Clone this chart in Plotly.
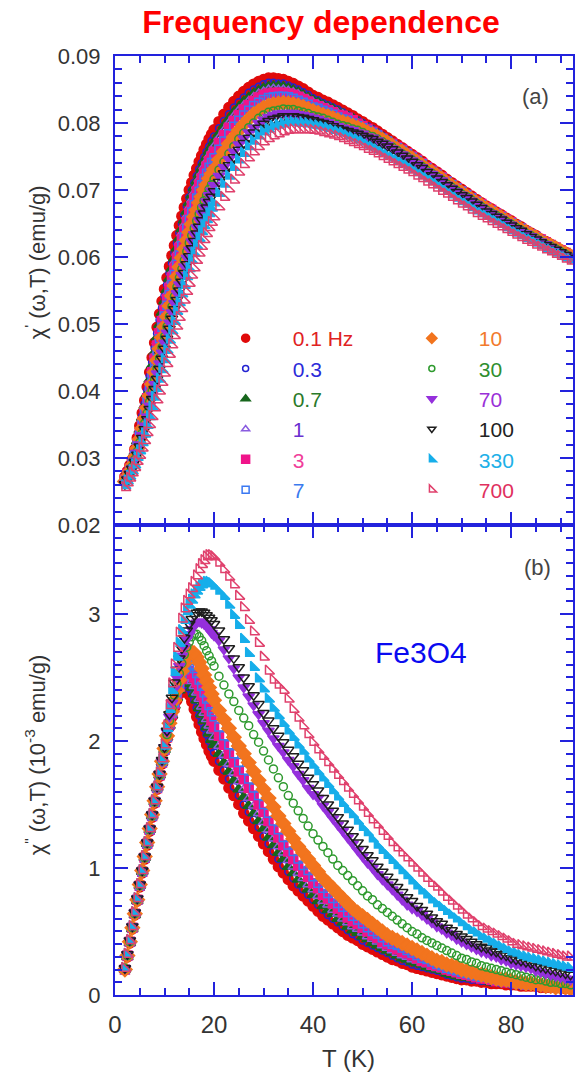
import plotly.graph_objects as go

# ---------------- data ----------------
T = [2, 2.5, 3, 3.5, 4, 4.5, 5, 5.5, 6, 6.5, 7, 7.5, 8, 8.5, 9, 9.5, 10, 10.5, 11, 11.5,
     12, 12.5, 13, 13.5, 14, 14.5, 15, 15.5, 16, 16.5, 17, 17.5, 18, 18.5, 19, 19.5, 20,
     21, 22, 23, 24, 25, 26, 27, 28, 29, 30, 31, 32, 33, 34, 35, 36, 37, 38, 39, 40,
     41, 42, 43, 44, 45, 46, 47, 48, 49, 50, 51, 52, 53, 54, 55, 56, 57, 58, 59, 60,
     61, 62, 63, 64, 65, 66, 67, 68, 69, 70, 71, 72, 73, 74, 75, 76, 77, 78, 79, 80,
     81, 82, 83, 84, 85, 86, 87, 88, 89, 90, 91, 92]

freq_labels = ["0.1 Hz", "0.3", "0.7", "1", "3", "7", "10", "30", "70", "100", "330", "700"]

# chi' in units of 1e-4 emu/g
chi1_f01 = [272,280,289,298,313,330,348,367,386,406,428,450,472,495,515,534,552,569,586,602,617,632,647,661,674,687,700,711,722,732,742,751,760,768,776,783,790,
            802,813,823,832,840,847,853,858,862,865,867,867,866,865,862,859,855,851,846,841,838,834,831,827,823,
            819,815,811,806,802,797,793,788,783,778,
            773,768,763,758,753,748,743,737,732,727,722,716,711,706,701,696,691,686,681,676,672,667,663,658,654,649,645,640,636,632,627,623,619,615,611,607,603]
chi1_f03 = [271,279,287,296,311,327,344,363,381,401,422,443,464,486,506,524,542,559,576,591,606,621,636,650,663,676,689,700,711,721,731,740,749,757,765,773,780,
            792,803,813,823,831,838,845,850,854,858,860,860,859,859,856,853,850,846,842,837,834,830,827,823,820,
            816,812,808,804,800,795,791,786,781,776,
            771,766,762,757,752,747,742,736,731,726,721,715,710,705,700,695,690,685,680,675,671,666,662,657,653,648,644,639,635,631,626,622,618,614,611,607,603]
chi1_f07 = [270,278,286,295,309,325,342,360,378,396,417,438,458,480,499,517,534,551,568,583,598,613,628,642,655,668,681,692,703,713,723,732,741,749,758,765,772,
            784,796,806,816,824,832,838,844,848,852,854,855,855,854,852,849,846,842,838,834,831,827,824,821,817,
            814,810,807,802,798,793,789,784,780,775,
            771,766,761,756,751,746,741,735,730,725,720,714,709,704,699,694,689,684,679,674,670,666,662,657,653,648,644,639,635,631,626,622,618,614,610,606,602]
chi1_f1 = [269,277,285,294,308,323,340,357,375,393,413,433,454,474,493,511,528,545,561,577,592,606,621,635,648,661,674,685,696,706,716,725,735,743,751,758,765,
           778,789,800,810,819,826,833,839,844,847,850,851,850,850,848,846,843,839,835,831,828,825,822,818,815,
           813,809,805,800,797,792,788,783,779,774,
           770,765,760,755,750,745,740,734,730,725,720,714,709,704,699,694,689,684,679,674,670,665,661,656,652,647,643,638,635,631,626,622,618,614,610,606,602]
chi1_f3 = [268,276,284,293,306,321,337,354,371,389,408,428,448,468,486,504,521,537,553,569,583,598,613,626,639,652,665,676,687,698,708,717,726,735,743,750,757,
           770,782,793,803,812,820,827,833,838,842,844,845,845,845,844,842,839,836,832,828,825,822,819,816,812,
           811,808,804,799,795,791,787,782,777,772,
           769,764,760,755,750,745,740,734,729,724,719,713,708,703,698,693,688,683,679,674,670,665,661,656,652,647,643,638,634,630,626,622,618,614,610,606,602]
chi1_f7 = [267,275,283,292,304,319,334,350,367,384,403,422,441,460,478,495,512,528,544,559,574,589,603,617,630,643,656,667,678,688,698,708,717,725,734,741,748,
           761,773,784,795,804,812,819,826,831,835,838,839,840,840,839,837,834,831,828,824,822,819,816,813,809,
           806,804,800,796,793,789,786,782,777,773,
           768,763,759,754,749,744,739,733,728,723,718,713,708,703,698,693,688,683,678,673,669,664,660,655,651,647,643,638,634,630,625,621,617,613,609,605,602]
chi1_f10 = [265,272,280,289,301,314,328,344,359,375,393,410,428,446,463,480,496,511,527,542,557,571,585,599,612,625,637,649,660,670,681,690,700,708,717,724,731,
            745,757,769,779,789,798,806,813,818,823,826,828,829,830,829,828,826,824,821,818,815,812,810,807,804,
            801,799,796,793,790,786,783,779,775,771,
            766,761,757,752,747,742,737,731,727,722,717,711,706,701,696,691,686,681,677,672,668,663,659,654,650,645,641,637,633,629,624,620,617,613,609,605,601]
chi1_f30 = [263,270,278,287,298,310,323,337,352,367,384,400,417,433,449,465,481,496,511,526,541,555,569,582,595,608,621,632,643,654,664,674,684,692,701,708,716,
            730,742,754,765,776,785,793,800,807,812,816,818,819,821,820,820,818,816,814,811,809,807,804,801,798,
            796,794,791,789,786,782,780,776,772,768,
            764,759,754,750,745,740,735,729,725,720,715,709,704,699,694,690,685,680,675,670,666,662,658,653,649,644,640,635,632,628,623,619,616,612,608,604,600]
chi1_f70 = [262,269,277,285,296,308,320,334,348,362,378,394,410,426,441,457,472,487,502,517,531,546,559,573,586,599,611,623,634,644,655,665,674,683,692,699,707,
            721,734,746,757,768,777,786,793,800,805,809,812,814,815,815,815,813,812,810,808,806,803,801,798,795,
            793,791,789,786,784,780,778,774,770,767,
            762,757,753,748,744,739,734,728,724,719,714,708,703,698,693,689,684,679,674,669,665,661,657,652,648,643,639,635,631,627,623,619,615,611,607,603,600]
chi1_f100 = [261,268,276,284,294,305,317,330,343,358,373,388,403,418,433,448,463,478,493,508,522,536,550,563,576,589,601,613,624,635,645,655,665,674,682,690,698,
             712,725,737,749,760,770,778,786,793,799,803,806,808,810,810,810,809,808,806,804,802,800,798,795,792,
             790,788,786,784,781,778,776,772,769,765,
             761,756,751,747,742,737,733,727,722,717,712,707,702,697,692,688,683,678,673,668,664,660,656,651,647,643,639,634,630,626,622,618,615,611,607,603,599]
chi1_f330 = [259,266,273,281,290,301,311,323,336,349,362,376,391,404,418,432,447,461,476,490,504,519,532,545,558,571,583,595,606,617,628,638,647,656,665,673,681,
             695,709,721,734,745,755,765,773,781,787,791,795,797,799,801,801,800,800,799,797,796,794,792,789,787,
             785,781,778,775,772,767,764,760,756,752,
             748,744,740,736,731,726,722,717,713,708,703,698,693,688,683,679,674,669,665,661,657,653,649,644,640,636,632,628,625,621,617,613,610,606,603,599,596]
chi1_f700 = [256,263,270,278,286,295,304,315,326,338,350,362,375,387,400,413,427,441,455,469,483,497,510,523,536,549,561,573,584,595,606,616,626,635,644,652,660,
             675,689,702,715,727,738,748,757,765,772,777,781,784,787,789,790,790,790,790,789,788,786,784,782,780,
             777,774,771,768,765,761,758,754,750,746,
             742,738,734,730,726,721,717,712,708,703,698,694,689,684,679,675,670,665,661,657,653,649,645,641,637,633,629,625,622,618,615,611,608,604,601,597,594]

# chi'' in units of 1e-5 emu/g (i.e. 0.01 x 1e-3 emu/g)
chi2_f01 = [20,30,41,52,63,74,85,96,107,118,129,140,151,162,172,182,192,202,211,219,226,232,237,241,242,240,236,231,225,219,213,207,202,197,192,188,184,
            177,170,163,157,150,143,137,131,125,119,113,107,101,96,91,86,82,78,74,70,66,62,59,56,53,50,47,45,43,40,38,36,34,32,30,28,27,25,24,22,21,20,19,18,17,16,15,14,13,12,12,11,11,10,10,9,9,9,8,8,8,7,7,7,7,6,6,6,6,6,5,5]
chi2_f03 = [20,30,41,52,63,74,85,96,107,118,129,140,151,162,172,182,192,202,211,220,227,233,239,243,245,244,241,237,232,226,220,215,210,205,200,195,191,
            184,177,170,164,157,150,144,138,132,125,119,113,107,102,97,92,87,83,79,75,71,67,63,60,57,54,51,48,46,43,41,39,37,35,33,31,29,27,26,24,23,22,21,20,19,18,16,15,14,13,13,12,12,11,11,10,10,9,9,8,8,7,7,7,7,6,6,6,6,6,5,5]
chi2_f07 = [20,30,41,52,63,74,86,97,108,119,130,141,152,163,173,183,193,203,212,220,228,234,240,245,247,247,245,242,237,232,226,221,216,211,206,201,197,
            190,183,176,169,162,156,149,143,137,131,124,118,112,107,101,96,91,87,83,79,74,70,67,64,60,57,54,51,49,46,44,41,39,37,35,33,31,29,28,26,25,24,22,21,20,19,17,16,15,14,14,13,13,12,11,10,10,10,9,9,9,8,8,8,7,7,6,6,6,6,5,5]
chi2_f1 = [20,30,41,52,63,74,86,97,108,119,130,141,152,163,173,183,193,203,212,221,228,235,241,247,250,250,249,247,243,238,233,227,222,217,212,208,203,
           196,189,182,175,168,162,155,149,143,136,130,123,117,112,106,101,96,92,87,83,78,74,71,67,64,60,57,54,52,49,46,44,42,39,37,35,33,31,30,28,27,25,24,22,21,20,19,18,17,15,15,14,13,12,12,11,11,10,10,9,9,8,8,8,7,7,6,6,6,6,5,5]
chi2_f3 = [20,31,42,53,64,75,86,97,108,119,130,141,152,163,173,183,193,203,213,221,229,237,243,249,253,255,255,253,250,246,241,236,231,226,221,216,211,
           204,197,190,183,176,170,163,157,150,144,137,130,124,118,113,107,102,97,93,88,84,79,76,72,68,65,61,58,56,53,50,47,45,42,40,38,36,34,33,31,29,27,26,24,23,22,20,19,18,17,16,15,14,13,13,12,11,11,10,10,9,9,8,8,8,7,7,7,6,6,6,5]
chi2_f7 = [20,31,42,53,64,75,86,97,108,119,130,141,152,163,173,183,193,203,213,222,230,238,245,251,256,259,260,259,257,253,248,243,238,233,228,223,219,
           211,204,197,190,183,177,170,163,157,150,143,137,130,124,118,113,107,102,98,93,88,84,80,76,72,69,65,62,59,56,53,50,48,45,42,40,39,37,35,33,31,29,28,26,24,23,21,20,19,18,17,16,15,14,14,13,12,11,11,10,9,9,8,8,8,7,7,7,6,6,6,5]
chi2_f10 = [20,31,42,53,64,75,87,98,109,120,131,142,153,164,174,184,194,204,214,223,232,240,248,255,261,266,269,270,269,266,262,257,252,247,242,237,232,
            224,217,210,203,196,190,183,176,169,162,155,148,141,135,129,123,117,112,107,102,97,92,88,84,80,76,72,68,65,62,59,56,53,50,47,45,43,41,39,37,35,33,31,29,27,26,24,23,22,20,19,18,17,16,15,14,13,12,12,11,10,10,9,9,8,8,7,7,6,6,6,5]
chi2_f30 = [21,31,42,53,64,75,86,97,108,119,130,141,152,163,173,184,194,205,216,226,236,245,253,261,268,274,278,282,284,284,282,279,275,271,267,263,259,
            251,244,237,231,224,218,212,205,199,192,185,178,171,164,157,151,145,139,133,127,122,117,112,107,102,98,94,90,86,82,78,75,71,68,65,62,59,56,53,50,48,45,43,41,39,37,35,33,31,29,28,26,25,23,22,21,20,19,18,17,16,15,14,13,12,12,11,10,10,9,9,8]
chi2_f70 = [21,32,43,54,65,76,87,98,109,120,131,142,153,163,174,184,195,207,219,230,241,250,259,267,274,280,284,288,291,293,294,293,292,290,288,285,283,
            279,272,265,257,250,242,235,228,221,214,208,202,196,191,185,180,174,169,163,158,155,149,144,139,134,129,124,119,114,109,104,100,95,91,87,83,79,75,71,68,66,63,60,57,54,52,49,47,44,42,40,38,36,34,33,31,30,28,27,25,24,23,22,21,19,18,17,16,15,14,13,12]
chi2_f100 = [21,32,43,54,65,76,87,98,109,120,131,142,153,164,174,185,195,208,221,234,246,256,265,273,281,287,292,296,299,301,302,302,301,299,297,295,292,
             287,280,273,265,258,250,243,236,229,222,216,210,204,199,193,188,182,177,171,166,161,155,150,145,140,135,130,125,120,115,110,106,101,97,93,89,85,81,77,74,70,67,64,61,58,56,53,51,48,46,44,42,40,38,37,35,34,32,31,29,28,27,26,25,23,22,21,20,19,18,17,16]
chi2_f330 = [21,32,43,54,65,76,87,98,109,120,131,142,153,164,175,185,196,210,225,240,254,266,277,287,295,302,307,311,315,318,321,323,324,325,325,324,322,
             318,314,307,299,291,280,269,258,249,241,233,226,220,214,208,203,197,192,186,181,176,171,166,161,156,151,146,142,137,132,128,123,118,114,110,106,102,98,94,90,86,82,79,75,72,69,66,63,60,57,54,51,49,46,44,42,40,38,36,34,33,31,30,29,28,27,26,25,24,23,22,21]
chi2_f700 = [21,32,43,54,65,76,87,98,109,120,131,142,153,164,175,186,197,212,228,245,260,273,285,296,304,310,315,320,325,330,335,339,342,345,346,346,345,
             340,335,329,323,314,305,295,286,277,266,255,248,244,240,233,225,218,212,205,199,193,188,183,178,173,168,163,158,153,148,143,138,134,129,125,120,116,112,108,104,100,96,92,88,85,81,77,74,70,67,63,60,57,54,52,50,48,46,44,42,40,39,38,37,36,35,34,33,32,31,30,30]

chi1_series = [chi1_f01, chi1_f03, chi1_f07, chi1_f1, chi1_f3, chi1_f7,
               chi1_f10, chi1_f30, chi1_f70, chi1_f100, chi1_f330, chi1_f700]
chi2_series = [chi2_f01, chi2_f03, chi2_f07, chi2_f1, chi2_f3, chi2_f7,
               chi2_f10, chi2_f30, chi2_f70, chi2_f100, chi2_f330, chi2_f700]

# ---------------- styles ----------------
marker_colors = ["#e00a0a", "#2323d2", "#17661c", "#8a5ce0", "#f0148a", "#3a78f2",
                 "#f2741e", "#2e9a2e", "#9530dc", "#1e1e1e", "#16aeea", "#e0406c"]
label_colors = ["#e02222", "#2b2bd9", "#2a7a2a", "#6a30d0", "#f0409a", "#3a7aee",
                "#f27a2c", "#2f8f2f", "#9a30d8", "#222222", "#20b0e8", "#e0305e"]
symbols = ["circle", "circle-open", "triangle-up", "triangle-up-open", "square", "square-open",
           "diamond", "circle-open", "triangle-down", "triangle-down-open", "triangle-sw", "triangle-sw-open"]
sizes = [10, 7, 10, 9, 9, 8, 11, 8, 10, 10, 10, 10]
legend_sizes = [8, 6, 8, 7, 8, 7, 8, 6, 8, 7, 8, 8]

AX = "#2222dd"
FONT = "Liberation Sans, Arial, Helvetica, sans-serif"

fig = go.Figure()
for i, lab in enumerate(freq_labels):
    mk = dict(symbol=symbols[i], color=marker_colors[i], size=sizes[i],
              line=dict(color=marker_colors[i], width=1.5))
    fig.add_trace(go.Scatter(
        x=T, y=[v / 1e4 for v in chi1_series[i]], mode="markers", marker=mk,
        xaxis="x", yaxis="y", showlegend=False, legendgroup=lab))
for i, lab in enumerate(freq_labels):
    mk = dict(symbol=symbols[i], color=marker_colors[i], size=sizes[i],
              line=dict(color=marker_colors[i], width=1.5))
    fig.add_trace(go.Scatter(
        x=T, y=[v / 100 for v in chi2_series[i]], mode="markers", marker=mk,
        xaxis="x2", yaxis="y2", showlegend=False, legendgroup=lab))
# legend entries (smaller symbols, coloured labels)
for i, lab in enumerate(freq_labels):
    mk = dict(symbol=symbols[i], color=marker_colors[i], size=legend_sizes[i],
              line=dict(color=marker_colors[i], width=1.5))
    fig.add_trace(go.Scatter(
        x=[None], y=[None], mode="markers", marker=mk, xaxis="x", yaxis="y",
        name='<span style="color:%s">%s</span>' % (label_colors[i], lab), legendgroup=lab,
        legend="legend" if i < 6 else "legend2", showlegend=True))

L, R_, TOP, B = 115, 2, 56, 80
W, H = 577, 1075
pw, ph = W - L - R_, H - TOP - B
split = (995 - 525) / ph


def px(x):
    return (x - L) / pw


def py(y):
    return (995 - y) / ph


common_x = dict(range=[0, 92.5], dtick=20, tick0=0, ticks="inside", ticklen=13, tickwidth=2,
                tickcolor=AX, showline=True, linecolor=AX, linewidth=2, mirror="allticks",
                showgrid=False, zeroline=False,
                minor=dict(dtick=5, tick0=0, ticks="inside", ticklen=7, tickwidth=2, tickcolor=AX, showgrid=False))
common_y = dict(ticks="inside", ticklen=13, tickwidth=2, tickcolor=AX, showline=True, linecolor=AX,
                linewidth=2, mirror="allticks", showgrid=False, zeroline=False,
                tickfont=dict(size=22, color="#333333", family=FONT), ticklabelstandoff=8)


def ann(text, x, y, size, color, angle=0):
    return dict(text=text, x=px(x), y=py(y), xref="paper", yref="paper", showarrow=False,
                xanchor="center", yanchor="middle", textangle=angle,
                font=dict(size=size, color=color, family=FONT))


fig.update_layout(
    width=W, height=H, margin=dict(l=L, r=R_, t=TOP, b=B),
    paper_bgcolor="white", plot_bgcolor="white",
    font=dict(family=FONT, color="#333333"),
    title=dict(text="<b>Frequency dependence</b>", x=321 / W, xanchor="center",
               y=1 - 22 / H, yanchor="middle", font=dict(size=32, color="#ff0000", family=FONT)),
    xaxis=dict(common_x, anchor="y", domain=[0, 1], showticklabels=False),
    yaxis=dict(common_y, anchor="x", domain=[split, 1], range=[0.02, 0.09], dtick=0.01, tick0=0.02,
               tickformat=".2f",
               minor=dict(dtick=0.002, tick0=0.02, ticks="inside", ticklen=7, tickwidth=2, tickcolor=AX, showgrid=False)),
    xaxis2=dict(common_x, anchor="y2", domain=[0, 1], showticklabels=True,
                tickfont=dict(size=24, color="#333333", family=FONT), ticklabelstandoff=7),
    yaxis2=dict(common_y, anchor="x2", domain=[0, split], range=[0, 3.7], dtick=1, tick0=0,
                minor=dict(dtick=0.1, tick0=0, ticks="inside", ticklen=7, tickwidth=2, tickcolor=AX, showgrid=False)),
    legend=dict(x=px(199), y=py(318), xanchor="left", yanchor="top", bgcolor="rgba(0,0,0,0)",
                font=dict(size=21, family=FONT), itemwidth=84, tracegroupgap=0, traceorder="normal",
                itemsizing="trace"),
    legend2=dict(x=px(386), y=py(318), xanchor="left", yanchor="top", bgcolor="rgba(0,0,0,0)",
                 font=dict(size=21, family=FONT), itemwidth=84, tracegroupgap=0, traceorder="normal",
                 itemsizing="trace"),
    annotations=[
        ann("(a)", 537, 97, 22, "#444444"),
        ann("(b)", 539, 567, 22, "#444444"),
        ann("Fe3O4", 422, 653, 30, "#0a0af0"),
        ann("T (K)", 350, 1058, 24, "#333333"),
        ann("χ<sup>'</sup> (ω,T) (emu/g)", 35, 262, 22, "#333333", -90),
        ann('χ<sup>"</sup> (ω,T) (10<sup>-3</sup> emu/g)', 35, 755, 22, "#333333", -90),
    ],
)

fig.write_html("out.html")
